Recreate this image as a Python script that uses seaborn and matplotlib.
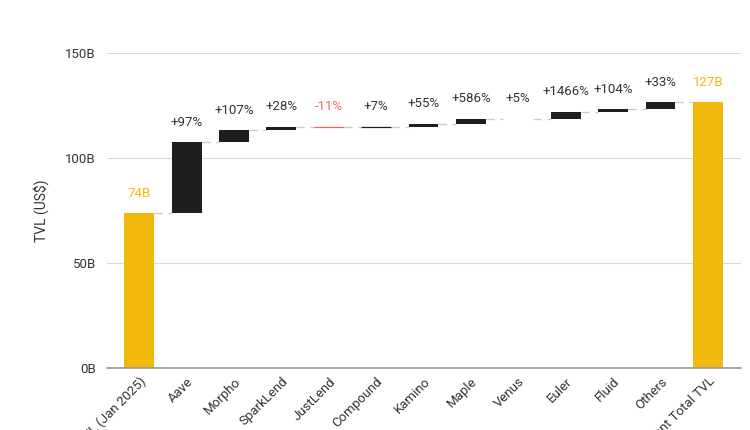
import numpy as np
import pandas as pd
import matplotlib
matplotlib.use("Agg")
import matplotlib.pyplot as plt
import seaborn as sns

# ---- data ----
categories = ["Total TVL (Jan 2025)", "Aave", "Morpho", "SparkLend", "JustLend",
              "Compound", "Kamino", "Maple", "Venus", "Euler", "Fluid", "Others",
              "Current Total TVL"]
start_tvl = 73.8
changes = [33.8, 5.7, 1.6, -0.3, 0.2, 1.5, 2.4, 0.1, 3.2, 1.1, 3.4]
pct_labels = ["+97%", "+107%", "+28%", "-11%", "+7%", "+55%", "+586%", "+5%",
              "+1466%", "+104%", "+33%"]
start_label = "74B"
end_label = "127B"
yticks = [0, 50, 100, 150]
ytick_labels = ["0B", "50B", "100B", "150B"]

YELLOW = "#F0B90B"
DARK = "#1e1e1e"
RED = "#e8675f"

# build waterfall table
cum = [start_tvl]
for c in changes:
    cum.append(cum[-1] + c)
end_tvl = cum[-1]
bottoms = [0.0] + [cum[i] for i in range(len(changes))] + [0.0]
heights = [start_tvl] + changes + [end_tvl]
colors = [YELLOW] + [DARK if c >= 0 else RED for c in changes] + [YELLOW]
df = pd.DataFrame({"cat": categories, "h": heights})

sns.set_style("white")
plt.rcParams["font.family"] = ["Roboto", "DejaVu Sans"]

fig = plt.figure(figsize=(7.5, 4.3), dpi=100)
ax = fig.add_axes([107/750, (430-368)/430, (741-107)/750, (368-53)/430])

sns.barplot(data=df, x="cat", y="h", order=categories, color=DARK,
            bottom=bottoms, width=0.63, ax=ax, zorder=3, linewidth=0)
for p, col, h in zip(ax.patches, colors, heights):
    p.set_facecolor(col)
    if 0.15 < abs(h) < 1.0:
        p.set_edgecolor(col)
        p.set_linewidth(0.9)
    else:
        p.set_edgecolor("none")

# connectors
levels = [start_tvl] + cum[1:]
w = 0.63
for i in range(len(categories) - 1):
    y = levels[i]
    ax.plot([i + w/2, i + 1 - w/2], [y, y], color="#cccccc", lw=1,
            dashes=(6, 4), zorder=2)

# labels
def top_of(i):
    return max(bottoms[i], bottoms[i] + heights[i])

FS = 9.5
ax.annotate(start_label, (0, top_of(0)), xytext=(0, 14.4), textcoords="offset points",
            ha="center", va="center", color=YELLOW, fontsize=FS)
ax.annotate(end_label, (len(categories)-1, top_of(len(categories)-1)), xytext=(0, 14.4),
            textcoords="offset points", ha="center", va="center", color=YELLOW, fontsize=FS)
for i, lab in enumerate(pct_labels):
    j = i + 1
    ax.annotate(lab, (j, top_of(j)), xytext=(0, 14.4), textcoords="offset points",
                ha="center", va="center", color=RED if changes[i] < 0 else "#333333",
                fontsize=FS)

ax.set_ylim(0, 150)
ax.set_xlim(-0.68, len(categories) - 1 + 0.7)
ax.set_yticks(yticks)
ax.set_yticklabels(ytick_labels)
ax.yaxis.grid(True, color="#d9d9d9", lw=0.8, zorder=0)
ax.set_axisbelow(True)
for s in ["top", "right", "left"]:
    ax.spines[s].set_visible(False)
ax.spines["bottom"].set_color("#999999")
ax.spines["bottom"].set_linewidth(1.2)
ax.spines["bottom"].set_zorder(4)
ax.tick_params(axis="both", length=0, labelsize=9.5, colors="#333333")
ax.tick_params(axis="y", pad=8)
ax.tick_params(axis="x", pad=5)
plt.setp(ax.get_xticklabels(), rotation=45, ha="right", rotation_mode="anchor")
ax.set_xlabel("")
ax.set_ylabel("TVL (US$)", fontsize=10, color="#333333", labelpad=12)

fig.savefig("out.png", dpi=100)
